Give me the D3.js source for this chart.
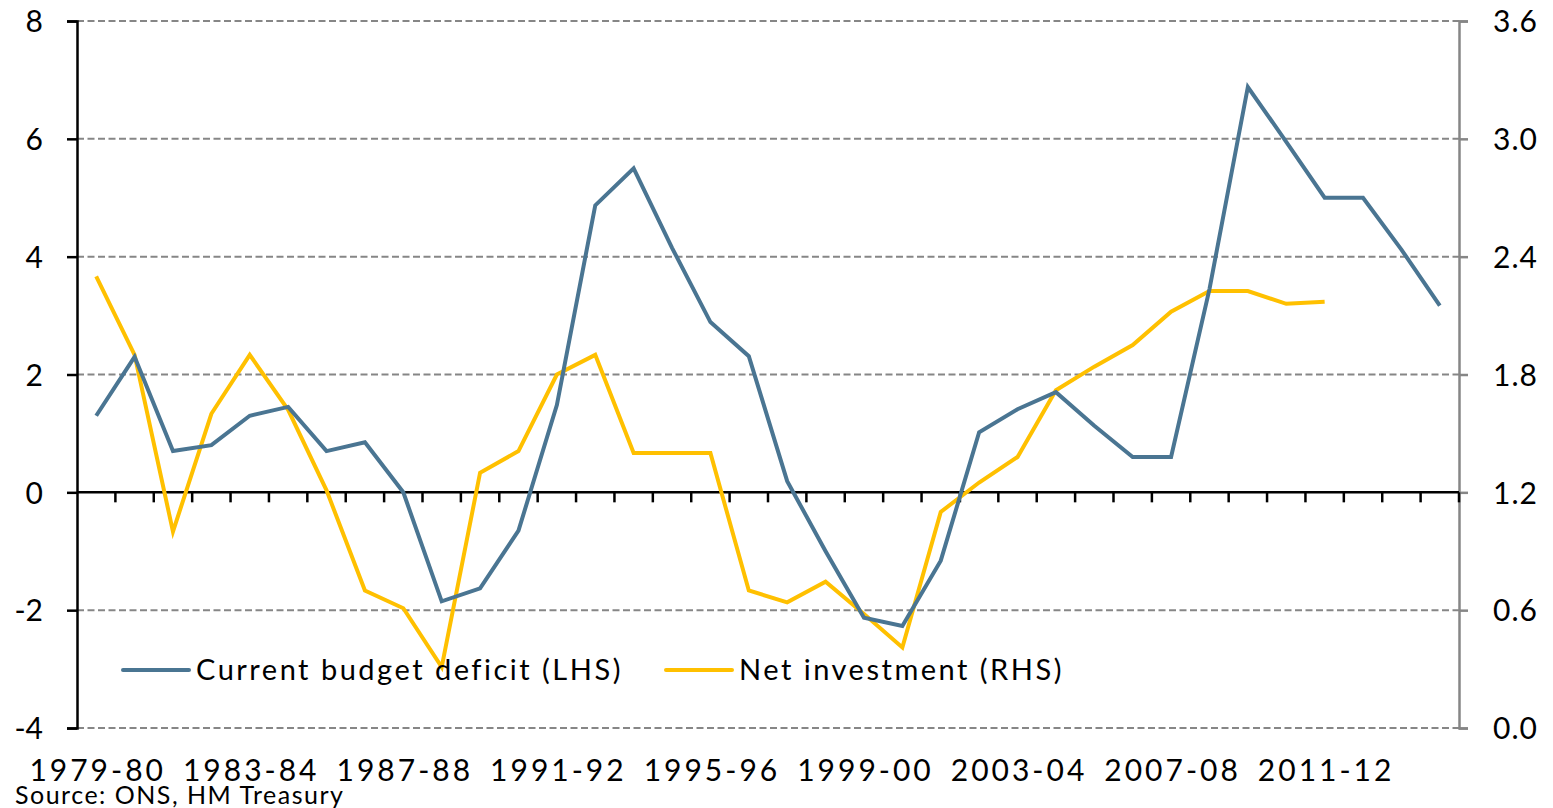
<!DOCTYPE html>
<html>
<head>
<meta charset="utf-8">
<script src="https://cdn.jsdelivr.net/npm/d3@7"></script>
<style>
  body { margin: 0; background: #fff; }
  text { font-family: Lato, "Open Sans", sans-serif; fill: #000; }
</style>
</head>
<body>
<div id="chart"></div>
<script>
var years = ["1979-80","1980-81","1981-82","1982-83","1983-84","1984-85","1985-86","1986-87",
  "1987-88","1988-89","1989-90","1990-91","1991-92","1992-93","1993-94","1994-95","1995-96",
  "1996-97","1997-98","1998-99","1999-00","2000-01","2001-02","2002-03","2003-04","2004-05",
  "2005-06","2006-07","2007-08","2008-09","2009-10","2010-11","2011-12","2012-13","2013-14","2014-15"];

// current budget deficit, % of GDP (LHS)
var deficit = [1.3, 2.3, 0.7, 0.8, 1.3, 1.45, 0.7, 0.85, 0.0, -1.85, -1.63, -0.65, 1.48, 4.87, 5.5, 4.15,
  2.89, 2.31, 0.19, -1.0, -2.13, -2.27, -1.16, 1.02, 1.41, 1.7, 1.13, 0.6, 0.6, 3.45, 6.88, 5.95,
  5.0, 5.0, 4.12, 3.17];

// net investment, % of GDP (RHS)
var investment = [2.3, 1.9, 1.0, 1.6, 1.9, 1.62, 1.21, 0.7, 0.61, 0.31, 1.3, 1.41, 1.8, 1.9, 1.4, 1.4,
  1.4, 0.7, 0.64, 0.745, 0.58, 0.41, 1.1, 1.25, 1.38, 1.72, 1.84, 1.95, 2.12, 2.225, 2.225, 2.16,
  2.17, null, null, null];

var xLabels = ["1979-80","1983-84","1987-88","1991-92","1995-96","1999-00","2003-04","2007-08","2011-12"];
var leftTicks = [-4, -2, 0, 2, 4, 6, 8];
var rightTicks = [0, 0.6, 1.2, 1.8, 2.4, 3.0, 3.6];

var margin = {top: 21, right: 94, bottom: 80, left: 77},
    width = 1553 - margin.left - margin.right,
    height = 808 - margin.top - margin.bottom;

var svg = d3.select("#chart")
  .append("svg")
    .attr("width", 1553)
    .attr("height", 808)
  .append("g")
    .attr("transform", "translate(" + margin.left + "," + margin.top + ")");

var x = d3.scaleBand().domain(years).range([0, width]).padding(0);
var yL = d3.scaleLinear().domain([-4, 8]).range([height, 0]);
var yR = d3.scaleLinear().domain([0, 3.6]).range([height, 0]);
var cx = function(d) { return x(d) + x.bandwidth() / 2; };

// dashed gridlines
svg.append("g")
  .selectAll("line")
  .data(leftTicks.filter(function(d) { return d !== 0; }))
  .enter().append("line")
    .attr("x1", 0).attr("x2", width)
    .attr("y1", function(d) { return yL(d); })
    .attr("y2", function(d) { return yL(d); })
    .attr("stroke", "#868686")
    .attr("stroke-width", 2)
    .attr("stroke-dasharray", "7,3.5");

// left axis
var leftAxis = svg.append("g")
  .call(d3.axisLeft(yL).tickValues(leftTicks).tickSize(10).tickPadding(24)
    .tickFormat(function(d) { return d < 0 ? "-" + Math.abs(d) : String(d); }));
leftAxis.select(".domain").attr("stroke", "#000").attr("stroke-width", 2.5);
leftAxis.selectAll(".tick line").attr("stroke", "#000").attr("stroke-width", 2.5);
leftAxis.selectAll("text").style("font-size", "30px").attr("dy", "0.36em");

// right axis
var rightAxis = svg.append("g")
  .attr("transform", "translate(" + width + ",0)")
  .call(d3.axisRight(yR).tickValues(rightTicks).tickSize(9).tickPadding(25).tickFormat(d3.format(".1f")));
rightAxis.select(".domain").attr("stroke", "#868686").attr("stroke-width", 2.5);
rightAxis.selectAll(".tick line").attr("stroke", "#868686").attr("stroke-width", 2.5);
rightAxis.selectAll("text").style("font-size", "30px").style("letter-spacing", "1px").attr("dy", "0.36em");

// zero line with category ticks
var zero = svg.append("g").attr("transform", "translate(0," + yL(0) + ")");
zero.append("line")
  .attr("x1", 0).attr("x2", width)
  .attr("stroke", "#000").attr("stroke-width", 2.5);
zero.selectAll(".cat")
  .data(years.slice(1).concat(["end"]))
  .enter().append("line")
    .attr("class", "cat")
    .attr("x1", function(d) { return d === "end" ? width : x(d); })
    .attr("x2", function(d) { return d === "end" ? width : x(d); })
    .attr("y1", 0).attr("y2", 10)
    .attr("stroke", "#000").attr("stroke-width", 2.5);

// x labels
svg.append("g")
  .selectAll("text")
  .data(xLabels)
  .enter().append("text")
    .attr("x", function(d) { return cx(d) + 1.5; })
    .attr("y", height + 53)
    .attr("text-anchor", "middle")
    .style("font-size", "30px")
    .style("letter-spacing", "3px")
    .text(function(d) { return d; });

// lines
var lineL = d3.line()
  .x(function(d, i) { return cx(years[i]); })
  .y(function(d) { return yL(d); });
var lineR = d3.line()
  .defined(function(d) { return d !== null; })
  .x(function(d, i) { return cx(years[i]); })
  .y(function(d) { return yR(d); });

svg.append("path")
  .datum(investment)
  .attr("fill", "none")
  .attr("stroke", "#FFC000")
  .attr("stroke-width", 4)
  .attr("d", lineR);

svg.append("path")
  .datum(deficit)
  .attr("fill", "none")
  .attr("stroke", "#4A7592")
  .attr("stroke-width", 4)
  .attr("d", lineL);

// legend
var legend = [
  {name: "Current budget deficit (LHS)", color: "#4A7592", x: 46},
  {name: "Net investment (RHS)", color: "#FFC000", x: 589}
];
var lg = svg.append("g").attr("transform", "translate(0," + (670 - margin.top) + ")");
lg.selectAll("line")
  .data(legend)
  .enter().append("line")
    .attr("x1", function(d) { return d.x; })
    .attr("x2", function(d) { return d.x + 66; })
    .attr("stroke", function(d) { return d.color; })
    .attr("stroke-width", 4)
    .attr("stroke-linecap", "round");
lg.selectAll("text")
  .data(legend)
  .enter().append("text")
    .attr("x", function(d) { return d.x + 73; })
    .attr("dy", "0.36em")
    .style("font-size", "29px")
    .style("letter-spacing", "2.5px")
    .text(function(d) { return d.name; });

// source
d3.select("svg").append("text")
  .attr("x", 15)
  .attr("y", 804)
  .style("font-size", "25px")
  .style("letter-spacing", "1.5px")
  .text("Source: ONS, HM Treasury");
</script>
</body>
</html>
